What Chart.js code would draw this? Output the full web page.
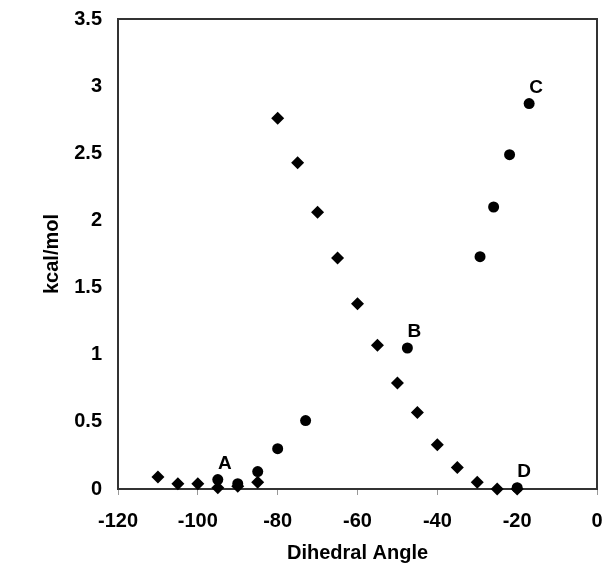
<!DOCTYPE html>
<html>
<head>
<meta charset="utf-8">
<script src="https://cdn.jsdelivr.net/npm/chart.js@4"></script>
<style>
  body { margin: 0; background: #fff; }
  #wrap { width: 605px; height: 565px; }
</style>
</head>
<body>
<div id="wrap"><canvas id="energyChart" width="605" height="565"></canvas></div>
<script>
// diamond series: scan in 5 degree steps
const diamondAngles = [-110, -105, -100, -95, -90, -85, -80, -75, -70, -65, -60, -55, -50, -45, -40, -35, -30, -25, -20];
const diamondEnergy = [0.09, 0.04, 0.04, 0.01, 0.02, 0.05, 2.76, 2.43, 2.06, 1.72, 1.38, 1.07, 0.79, 0.57, 0.33, 0.16, 0.05, 0.0, 0.0];

// circle series (optimised points)
const circleAngles = [-95, -90, -85, -80, -73, -47.5, -29.3, -25.9, -21.9, -17, -20];
const circleEnergy = [0.07, 0.04, 0.13, 0.30, 0.51, 1.05, 1.73, 2.10, 2.49, 2.87, 0.01];
const circleLabels = ["A", "", "", "", "", "B", "", "", "", "C", "D"];

const xTicks = { min: -120, max: 0, step: 20 };
const yTicks = { min: 0, max: 3.5, step: 0.5 };

const FONT = "'Liberation Sans', Arial, sans-serif";

const boxPlugin = {
  id: "box",
  beforeDatasetsDraw(chart) {
    const { ctx, chartArea: a } = chart;
    ctx.save();
    ctx.strokeStyle = "#333";
    ctx.lineWidth = 2;
    ctx.strokeRect(a.left, a.top, a.right - a.left, a.bottom - a.top);
    ctx.restore();
  },
};

// point letters A-D next to the circle markers
const letterPlugin = {
  id: "letters",
  afterDatasetsDraw(chart) {
    const { ctx } = chart;
    const meta = chart.getDatasetMeta(1);
    ctx.save();
    ctx.font = "bold 19px " + FONT;
    ctx.fillStyle = "#000";
    ctx.textAlign = "center";
    ctx.textBaseline = "middle";
    meta.data.forEach((pt, i) => {
      const lbl = circleLabels[i];
      if (!lbl) return;
      ctx.fillText(lbl, pt.x + 7, pt.y - 16);
    });
    ctx.restore();
  },
};

new Chart(document.getElementById("energyChart"), {
  type: "scatter",
  data: {
    datasets: [
      {
        label: "scan",
        data: diamondAngles.map((x, i) => ({ x, y: diamondEnergy[i] })),
        pointStyle: "rectRot",
        pointRadius: 6.5,
        backgroundColor: "#000",
        borderColor: "#000",
        borderWidth: 0,
        clip: false,
      },
      {
        label: "points",
        data: circleAngles.map((x, i) => ({ x, y: circleEnergy[i] })),
        pointStyle: "circle",
        pointRadius: 5.5,
        backgroundColor: "#000",
        borderColor: "#000",
        borderWidth: 0,
        clip: false,
      },
    ],
  },
  options: {
    responsive: false,
    animation: false,
    layout: { padding: { top: 19, right: 8, left: 0, bottom: 0 } },
    plugins: {
      legend: { display: false },
      tooltip: { enabled: false },
    },
    scales: {
      x: {
        type: "linear",
        min: xTicks.min,
        max: xTicks.max,
        afterFit(s) {
          s.height = 76;
          s.paddingLeft = 0;
          s.paddingRight = 0;
        },
        ticks: {
          stepSize: xTicks.step,
          color: "#000",
          padding: 14,
          maxRotation: 0,
          font: { family: FONT, size: 20, weight: "bold" },
        },
        grid: { drawOnChartArea: false, drawTicks: true, tickLength: 6, color: "#999" },
        border: { display: false },
        title: {
          display: true,
          text: "Dihedral Angle",
          color: "#000",
          padding: { top: 0, bottom: 0 },
          font: { family: FONT, size: 20, weight: "bold" },
        },
      },
      y: {
        type: "linear",
        min: yTicks.min,
        max: yTicks.max,
        afterFit(s) {
          s.width = 118;
          s.paddingTop = 0;
          s.paddingBottom = 0;
        },
        ticks: {
          stepSize: yTicks.step,
          color: "#000",
          padding: 16,
          callback: (v) => String(v),
          font: { family: FONT, size: 20, weight: "bold" },
        },
        grid: { display: false, drawTicks: false },
        border: { display: false },
        title: {
          display: true,
          text: "kcal/mol",
          color: "#000",
          padding: { top: 40, bottom: 0 },
          font: { family: FONT, size: 20, weight: "bold" },
        },
      },
    },
  },
  plugins: [boxPlugin, letterPlugin],
});
</script>
</body>
</html>
